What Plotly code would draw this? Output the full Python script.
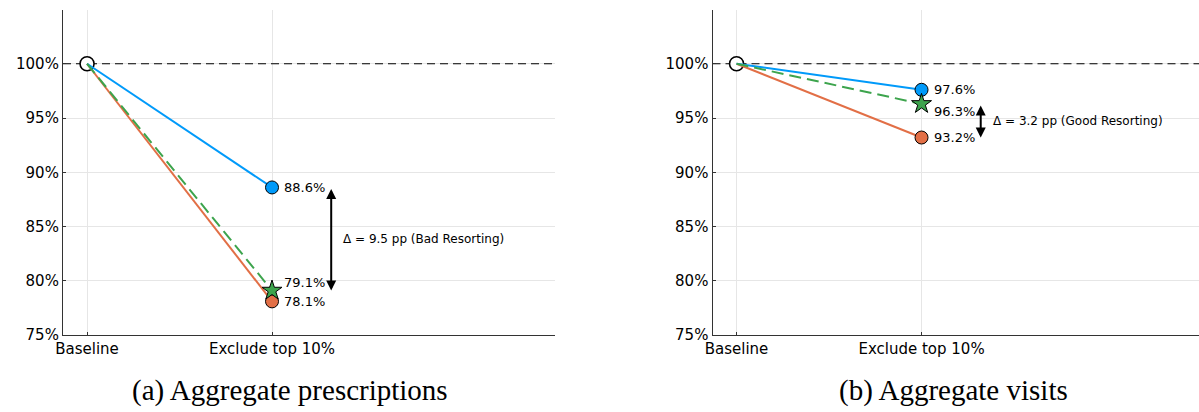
import plotly.graph_objects as go

# Stages on the x axis
categories = ["Baseline", "Exclude top 10%"]
y_ticks = [75, 80, 85, 90, 95, 100]
y_tick_labels = ["75%", "80%", "85%", "90%", "95%", "100%"]

# (a) Aggregate prescriptions — share retained (%)
presc_blue = [100.0, 88.6]
presc_orange = [100.0, 78.1]
presc_green = [100.0, 79.1]
presc_delta_text = "Δ = 9.5 pp (Bad Resorting)"

# (b) Aggregate visits — share retained (%)
visit_blue = [100.0, 97.6]
visit_orange = [100.0, 93.2]
visit_green = [100.0, 96.3]
visit_delta_text = "Δ = 3.2 pp (Good Resorting)"

captions = ["(a) Aggregate prescriptions", "(b) Aggregate visits"]

BLUE = "#009AFA"
ORANGE = "#E26F46"
GREEN = "#3DA44D"
SANS = "DejaVu Sans"

W, H = 1199, 412
xpos = [1, 2]
reference_level = 100.0
x_range_a = [0.87, 3.53]
x_range_b = [0.87, 3.50]

fig = go.Figure()


def add_panel(fig, xa, ya, xr, blue, orange, green, delta_text, label_shifts):
    # dashed reference line at 100%, across the full x range
    fig.add_trace(go.Scatter(x=xr, y=[reference_level, reference_level], mode="lines",
                             xaxis=xa, yaxis=ya, cliponaxis=True,
                             line=dict(color="black", width=1.2, dash="8px,5px"),
                             showlegend=False))
    # open baseline marker (under the series lines)
    fig.add_trace(go.Scatter(x=[xpos[0]], y=[blue[0]], mode="markers", xaxis=xa, yaxis=ya,
                             marker=dict(symbol="circle", size=14, color="white",
                                         line=dict(color="black", width=1.6)),
                             showlegend=False))
    # colored series lines
    fig.add_trace(go.Scatter(x=xpos, y=orange, mode="lines", xaxis=xa, yaxis=ya,
                             line=dict(color=ORANGE, width=2), showlegend=False))
    fig.add_trace(go.Scatter(x=xpos, y=blue, mode="lines", xaxis=xa, yaxis=ya,
                             line=dict(color=BLUE, width=2), showlegend=False))
    fig.add_trace(go.Scatter(x=xpos, y=green, mode="lines", xaxis=xa, yaxis=ya,
                             line=dict(color=GREEN, width=2, dash="12px,6px"),
                             showlegend=False))
    # end markers
    fig.add_trace(go.Scatter(x=[xpos[1]], y=[orange[1]], mode="markers", xaxis=xa, yaxis=ya,
                             marker=dict(symbol="circle", size=13, color=ORANGE,
                                         line=dict(color="black", width=1)),
                             showlegend=False))
    fig.add_trace(go.Scatter(x=[xpos[1]], y=[blue[1]], mode="markers", xaxis=xa, yaxis=ya,
                             marker=dict(symbol="circle", size=13, color=BLUE,
                                         line=dict(color="black", width=1)),
                             showlegend=False))
    fig.add_trace(go.Scatter(x=[xpos[1]], y=[green[1]], mode="markers", xaxis=xa, yaxis=ya,
                             marker=dict(symbol="star", size=15, color=GREEN,
                                         line=dict(color="black", width=1)),
                             showlegend=False))
    # value labels
    for vals, dy in zip([blue, orange, green], label_shifts):
        fig.add_annotation(x=xpos[1], y=vals[1], xref=xa, yref=ya,
                           text=f"{vals[1]:.1f}%", showarrow=False,
                           xanchor="left", yanchor="middle", xshift=10, yshift=dy,
                           font=dict(family=SANS, size=13, color="black"))
    # double-headed gap arrow spanning the larger of the two gaps around the green series
    if blue[1] - green[1] > green[1] - orange[1]:
        top, bot = blue[1], green[1]
    else:
        top, bot = green[1], orange[1]
    ax_x = 2.32
    fig.add_annotation(x=ax_x, y=bot, ax=ax_x, ay=top, xref=xa, yref=ya,
                       axref=xa, ayref=ya, text="", showarrow=True,
                       arrowhead=2, arrowside="end+start", arrowsize=1,
                       arrowwidth=2, arrowcolor="black", standoff=0, startstandoff=0)
    fig.add_annotation(x=ax_x, y=(top + bot) / 2, xref=xa, yref=ya,
                       text=delta_text, showarrow=False, xanchor="left",
                       yanchor="middle", xshift=10,
                       font=dict(family=SANS, size=12, color="black"))


add_panel(fig, "x", "y", x_range_a, presc_blue, presc_orange, presc_green,
          presc_delta_text, [0, 0, 8])
add_panel(fig, "x2", "y2", x_range_b, visit_blue, visit_orange, visit_green,
          visit_delta_text, [0, 0, -8])

axis_common = dict(showline=True, linecolor="#333333", linewidth=1.2, mirror=False,
                   showgrid=True, gridcolor="#E6E6E6", gridwidth=1, zeroline=False,
                   ticks="inside", ticklen=3, tickcolor="#333333", automargin=False,
                   tickfont=dict(family=SANS, size=15, color="black"))

yd = [(H - 335) / H, (H - 9.5) / H]
fig.update_layout(
    width=W, height=H, margin=dict(l=0, r=0, t=0, b=0),
    paper_bgcolor="white", plot_bgcolor="white", showlegend=False,
    xaxis=dict(domain=[63 / W, 555 / W], range=x_range_a, tickvals=xpos,
               ticktext=categories, anchor="y", **axis_common),
    yaxis=dict(domain=yd, range=[75, 105], tickvals=y_ticks, ticktext=y_tick_labels,
               anchor="x", **axis_common),
    xaxis2=dict(domain=[712.5 / W, 1.0], range=x_range_b, tickvals=xpos,
                ticktext=categories, anchor="y2", **axis_common),
    yaxis2=dict(domain=yd, range=[75, 105], tickvals=y_ticks, ticktext=y_tick_labels,
                anchor="x2", **axis_common),
)

for cx, text in zip([290, 953], captions):
    fig.add_annotation(x=cx / W, y=(H - 390) / H, xref="paper", yref="paper",
                       text=text, showarrow=False, xanchor="center", yanchor="middle",
                       font=dict(family="Liberation Serif", size=29, color="black"))

fig.write_html("out.html")
